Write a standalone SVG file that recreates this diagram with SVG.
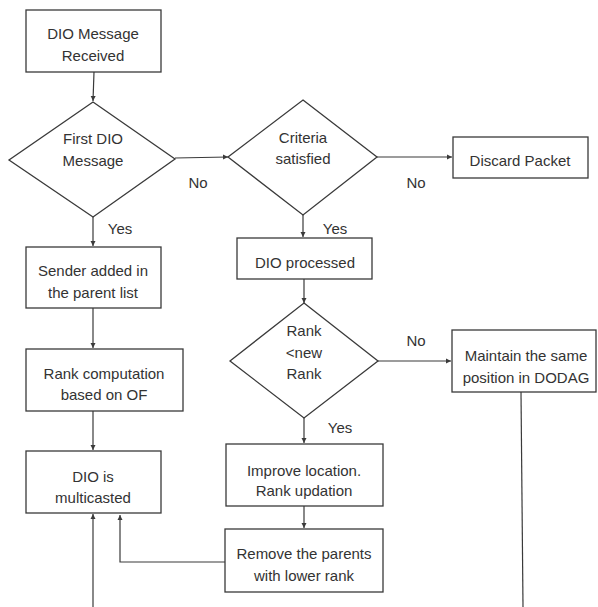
<svg xmlns="http://www.w3.org/2000/svg" width="598" height="607" viewBox="0 0 598 607">
  <style>
    .shape { fill: #ffffff; stroke: #3a3a3a; stroke-width: 1.3; }
    .edge { fill: none; stroke: #3a3a3a; stroke-width: 1.2; }
    text { font-family: "Liberation Sans", Arial, sans-serif; font-size: 15px; fill: #333333; text-anchor: middle; }
  </style>
  <defs>
    <marker id="arrow" markerWidth="6" markerHeight="6" refX="5" refY="3" orient="auto" markerUnits="userSpaceOnUse">
      <path d="M0,0.5 L5,3 L0,5.5 Z" fill="#3a3a3a"/>
    </marker>
  </defs>
  <rect width="598" height="607" fill="#ffffff"/>

  <g id="connectors">
    <path class="edge" d="M94,72 L93,101" marker-end="url(#arrow)"/>
    <path class="edge" d="M175,158 L228,157" marker-end="url(#arrow)"/>
    <path class="edge" d="M377,157 L452,157" marker-end="url(#arrow)"/>
    <path class="edge" d="M93,217 L93,246" marker-end="url(#arrow)"/>
    <path class="edge" d="M93,308 L93,348" marker-end="url(#arrow)"/>
    <path class="edge" d="M93,411 L93,450" marker-end="url(#arrow)"/>
    <path class="edge" d="M303,215 L303,237" marker-end="url(#arrow)"/>
    <path class="edge" d="M304,279 L304,303" marker-end="url(#arrow)"/>
    <path class="edge" d="M378,361 L451,361" marker-end="url(#arrow)"/>
    <path class="edge" d="M304,418 L304,443" marker-end="url(#arrow)"/>
    <path class="edge" d="M304,506 L304,528" marker-end="url(#arrow)"/>
    <path class="edge" d="M225,562 L120,562 L120,515" marker-end="url(#arrow)"/>
    <path class="edge" d="M93,607 L93,514" marker-end="url(#arrow)"/>
    <path class="edge" d="M521,392 L523,607"/>
    <text x="198" y="188">No</text>
    <text x="416" y="188">No</text>
    <text x="120" y="234">Yes</text>
    <text x="335" y="234">Yes</text>
    <text x="416" y="346">No</text>
    <text x="340" y="433">Yes</text>
  </g>

  <g id="dio-received">
    <rect class="shape" x="26" y="10" width="135" height="62"/>
    <text x="93" y="38.5">DIO Message</text>
    <text x="93" y="60.5">Received</text>
  </g>

  <g id="first-dio">
    <polygon class="shape" points="93,102 175,159 93,217 9,160"/>
    <text x="93" y="143.5">First DIO</text>
    <text x="93" y="165.5">Message</text>
  </g>

  <g id="criteria">
    <polygon class="shape" points="303,100 377,157 303,215 228,157"/>
    <text x="303" y="142.5">Criteria</text>
    <text x="303" y="163.5">satisfied</text>
  </g>

  <g id="discard">
    <rect class="shape" x="453" y="137" width="135" height="41"/>
    <text x="520" y="165.5">Discard Packet</text>
  </g>

  <g id="sender-added">
    <rect class="shape" x="26" y="247" width="135" height="61"/>
    <text x="93" y="275.5">Sender added in</text>
    <text x="93" y="297.5">the parent list</text>
  </g>

  <g id="rank-computation">
    <rect class="shape" x="26" y="349" width="157" height="62"/>
    <text x="104" y="378.5">Rank computation</text>
    <text x="104" y="399.5">based on OF</text>
  </g>

  <g id="dio-multicasted">
    <rect class="shape" x="26" y="451" width="135" height="62"/>
    <text x="93" y="481.5">DIO is</text>
    <text x="93" y="502.5">multicasted</text>
  </g>

  <g id="dio-processed">
    <rect class="shape" x="237" y="238" width="135" height="41"/>
    <text x="305" y="267.5">DIO processed</text>
  </g>

  <g id="rank-check">
    <polygon class="shape" points="304,303 378,361 304,418 230,361"/>
    <text x="304" y="335.5">Rank</text>
    <text x="304" y="357.5">&lt;new</text>
    <text x="304" y="378.5">Rank</text>
  </g>

  <g id="maintain">
    <rect class="shape" x="452" y="330" width="144" height="62"/>
    <text x="526" y="360.5">Maintain the same</text>
    <text x="526" y="382.5">position in DODAG</text>
  </g>

  <g id="improve">
    <rect class="shape" x="226" y="444" width="157" height="62"/>
    <text x="304" y="475.5">Improve location.</text>
    <text x="304" y="495.5">Rank updation</text>
  </g>

  <g id="remove-parents">
    <rect class="shape" x="225" y="529" width="158" height="63"/>
    <text x="304" y="558.5">Remove the parents</text>
    <text x="304" y="580.5">with lower rank</text>
  </g>
</svg>
